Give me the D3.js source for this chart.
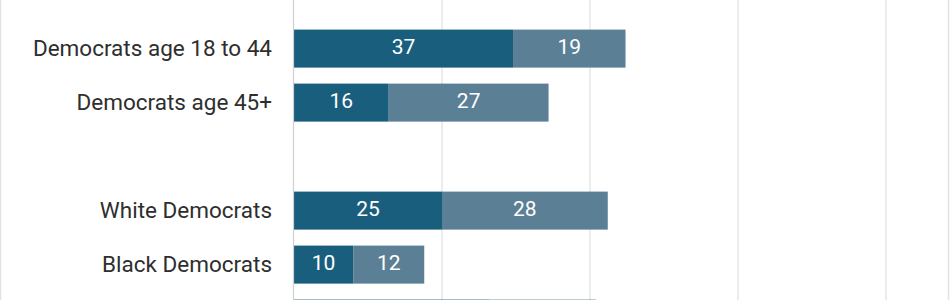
<!DOCTYPE html>
<html>
<head>
<meta charset="utf-8">
<script src="https://cdn.jsdelivr.net/npm/d3@7"></script>
<style>
  html, body { margin: 0; padding: 0; background: #fff; }
  svg { display: block; font-family: Roboto, "Noto Sans", sans-serif; }
</style>
</head>
<body>
<svg id="chart" width="950" height="300"></svg>
<script>
const categories = ["Democrats age 18 to 44", "Democrats age 45+", "", "White Democrats", "Black Democrats", "Hispanic Democrats"];
const darkValues = [37, 16, null, 25, 10, 33];
const lightValues = [19, 27, null, 28, 12, 18];
const xTicks = [0, 25, 50, 75, 100];

const W = 950, H = 300;
const svg = d3.select("#chart");

const x = d3.scaleLinear().domain([0, 100]).range([294, 886]);
const y = d3.scaleBand().domain(categories.map((c, i) => i)).range([21.6, 345.6])
  .paddingInner(0.296).paddingOuter(0.148);

// frame
svg.append("line").attr("x1", 0.5).attr("x2", 0.5).attr("y1", 0).attr("y2", H)
  .attr("stroke", "#e2e2e2").attr("stroke-width", 1.5);
svg.append("line").attr("x1", 948.5).attr("x2", 948.5).attr("y1", 0).attr("y2", H)
  .attr("stroke", "#e2e2e2").attr("stroke-width", 1.5);

// grid
svg.append("g").selectAll("line").data(xTicks.slice(1)).join("line")
  .attr("x1", d => x(d)).attr("x2", d => x(d))
  .attr("y1", 0).attr("y2", H)
  .attr("stroke", "#e0e0e0").attr("stroke-width", 1.2);

const rows = categories.map((c, i) => ({ c, i, a: darkValues[i], b: lightValues[i] }))
  .filter(r => r.a != null);

const g = svg.append("g");
rows.forEach(r => {
  const segs = [
    { x0: 0, x1: r.a, v: r.a, color: "#1a5e7e" },
    { x0: r.a, x1: r.a + r.b, v: r.b, color: "#5b7f95" }
  ];
  const cy = y(r.i) + y.bandwidth() / 2;
  segs.forEach(s => {
    g.append("rect")
      .attr("x", x(s.x0)).attr("y", y(r.i))
      .attr("width", x(s.x1) - x(s.x0)).attr("height", y.bandwidth())
      .attr("fill", s.color);
    if (cy < H) {
      g.append("text")
        .attr("x", (x(s.x0) + x(s.x1)) / 2)
        .attr("y", cy)
        .attr("dy", "0.27em")
        .attr("text-anchor", "middle")
        .attr("fill", "#fff")
        .attr("font-size", 21)
        .text(s.v);
    }
  });
});

// axis line
svg.append("line").attr("x1", x(0) - 0.5).attr("x2", x(0) - 0.5).attr("y1", 0).attr("y2", H)
  .attr("stroke", "#d0d0d0").attr("stroke-width", 1.2);

// category labels
svg.append("g").selectAll("text")
  .data(categories.map((c, i) => ({ c, i })).filter(d => d.c && y(d.i) + y.bandwidth() / 2 < H))
  .join("text")
  .attr("x", 272)
  .attr("y", d => y(d.i) + y.bandwidth() / 2)
  .attr("dy", "0.35em")
  .attr("text-anchor", "end")
  .attr("fill", "#2e2e2e")
  .attr("font-size", 22.5)
  .text(d => d.c);
</script>
</body>
</html>
